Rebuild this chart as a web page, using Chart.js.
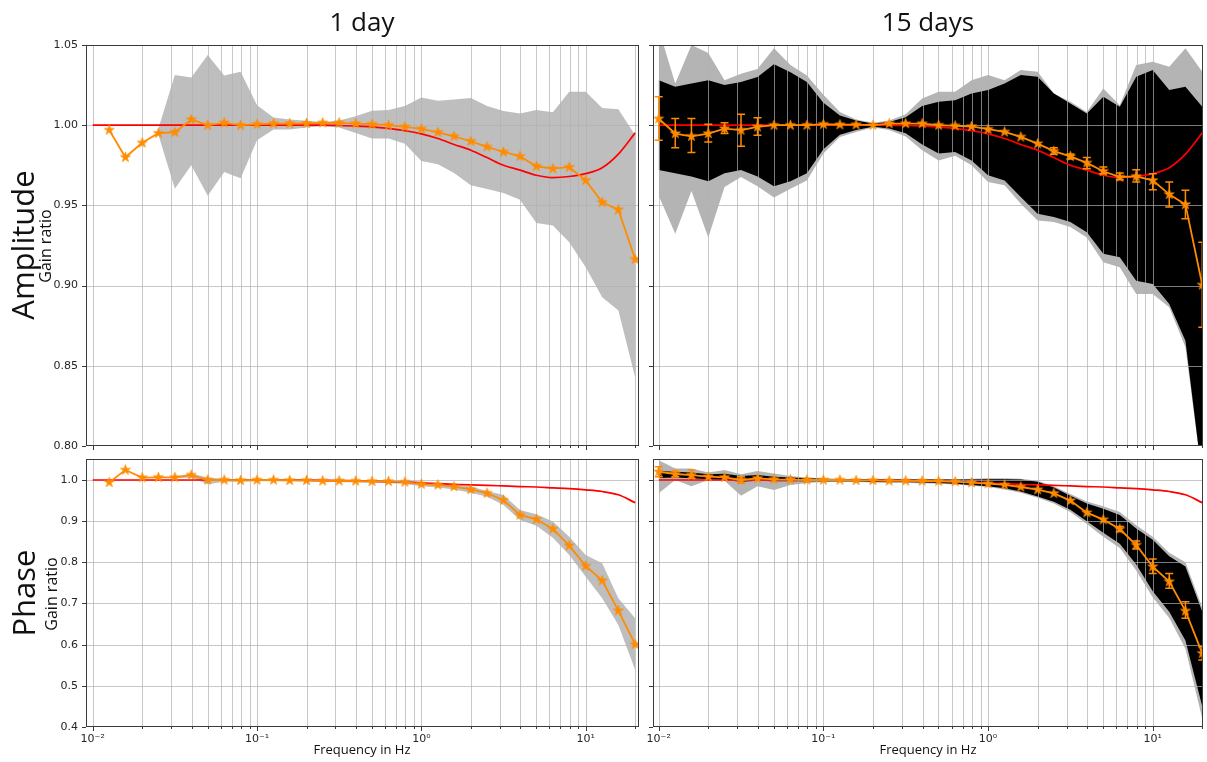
<!DOCTYPE html>
<html>
<head>
<meta charset="utf-8">
<script src="https://cdn.jsdelivr.net/npm/chart.js@4.4.0/dist/chart.umd.min.js"></script>
<style>
  body { margin: 0; background: #fff; width: 1207px; height: 762px; position: relative; overflow: hidden; font-family: 'Open Sans', sans-serif; }
  canvas { position: absolute; }
  .lbl { position: absolute; color: #111; white-space: nowrap; line-height: 1; }
  .ctr { transform: translate(-50%, -50%); }
  .rot { transform: translate(-50%, -50%) rotate(-90deg); }
</style>
</head>
<body>
<canvas id="ampDay" width="649" height="433" style="left:0;top:29px"></canvas>
<canvas id="ampFortnight" width="580" height="433" style="left:633px;top:29px"></canvas>
<canvas id="phaseDay" width="649" height="314" style="left:0;top:443px"></canvas>
<canvas id="phaseFortnight" width="580" height="314" style="left:633px;top:443px"></canvas>

<div class="lbl ctr" style="left:362px;top:21px;font-size:26px">1 day</div>
<div class="lbl ctr" style="left:928px;top:21px;font-size:26px">15 days</div>
<div class="lbl rot" style="left:22px;top:245px;font-size:31px">Amplitude</div>
<div class="lbl rot" style="left:45px;top:246px;font-size:16px">Gain ratio</div>
<div class="lbl rot" style="left:23px;top:593px;font-size:31px">Phase</div>
<div class="lbl rot" style="left:51px;top:594px;font-size:16px">Gain ratio</div>
<div class="lbl ctr" style="left:362px;top:749px;font-size:13px">Frequency in Hz</div>
<div class="lbl ctr" style="left:928px;top:749px;font-size:13px">Frequency in Hz</div>

<script>
// Frequencies (Hz), one every tenth of a decade
const freq = [0.01, 0.0126, 0.0158, 0.02, 0.0251, 0.0316, 0.0398, 0.0501, 0.0631, 0.0794,
  0.1, 0.126, 0.158, 0.2, 0.251, 0.316, 0.398, 0.501, 0.631, 0.794,
  1, 1.26, 1.58, 2, 2.51, 3.16, 3.98, 5.01, 6.31, 7.94,
  10, 12.6, 15.8, 20];

// Axis ticks
const xMajor = [0.01, 0.1, 1, 10];
const xMajorLabels = ['10\u207B\u00B2', '10\u207B\u00B9', '10\u2070', '10\u00B9'];
const ampTicks = [0.80, 0.85, 0.90, 0.95, 1.00, 1.05];
const ampTickLabels = ['0.80', '0.85', '0.90', '0.95', '1.00', '1.05'];
const phaseTicks = [0.4, 0.5, 0.6, 0.7, 0.8, 0.9, 1.0];
const phaseTickLabels = ['0.4', '0.5', '0.6', '0.7', '0.8', '0.9', '1.0'];

// Model (nominal) response
const modelAmp = [1, 1, 1, 1, 1, 1, 1, 1, 1, 1, 1, 1, 1, 1, 1, 0.9998, 0.9995, 0.999, 0.998, 0.9966,
  0.9946, 0.9917, 0.988, 0.9844, 0.9798, 0.975, 0.972, 0.9688, 0.9673, 0.968, 0.9698, 0.9735, 0.982, 0.9952];
const modelPhase = [1, 1, 1, 1, 1, 1, 1, 1, 1, 1, 1, 1, 1, 0.9995, 0.999, 0.9985, 0.998, 0.997, 0.996, 0.9945,
  0.993, 0.991, 0.9895, 0.988, 0.987, 0.9855, 0.984, 0.983, 0.981, 0.979, 0.976, 0.972, 0.964, 0.945];

// 1 day: amplitude gain ratio and spread
const ampDay = [null, 0.997, 0.980, 0.989, 0.995, 0.9956, 1.0035, 1.000, 1.0015, 1.000,
  1.0006, 1.001, 1.001, 1.0012, 1.0015, 1.0015, 1.001, 1.0006, 1.000, 0.999,
  0.9977, 0.9956, 0.9931, 0.990, 0.9865, 0.9833, 0.9806, 0.9744, 0.9729, 0.9738,
  0.9656, 0.9519, 0.9473, 0.9164];
const ampDayHigh = [null, null, null, null, 0.998, 1.0313, 1.0298, 1.0438, 1.031, 1.0333,
  1.0125, 1.0048, 1.0035, 1.0027, 1.002, 1.003, 1.0056, 1.009, 1.0094, 1.012,
  1.0173, 1.0152, 1.016, 1.0169, 1.0119, 1.0088, 1.0073, 1.0094, 1.008, 1.0208,
  1.0208, 1.0108, 1.010, 0.9938];
const ampDayLow = [null, null, null, null, 0.994, 0.9604, 0.975, 0.956, 0.9708, 0.967,
  0.9906, 0.9973, 0.9973, 0.9985, 0.9994, 0.9985, 0.9952, 0.9917, 0.9917, 0.9885,
  0.9777, 0.9756, 0.9702, 0.9625, 0.9602, 0.9577, 0.9535, 0.939, 0.9375, 0.927,
  0.9115, 0.8927, 0.8844, 0.8427];

// 15 days: amplitude gain ratio, error bars and envelopes
const ampFortnight = [1.004, 0.9948, 0.9931, 0.9948, 0.9979, 0.9969, 0.999, 1.0, 1.0, 1.0,
  1.0006, 1.0003, 1.0003, 1.0, 1.001, 1.001, 1.001, 1.0, 0.9996, 0.9992,
  0.9975, 0.9958, 0.9927, 0.9885, 0.9838, 0.9806, 0.9765, 0.9713, 0.9677, 0.9681,
  0.9656, 0.9569, 0.9506, 0.9004];
const ampFortnightErrLow = [0.9906, 0.986, 0.983, 0.9896, 0.9948, 0.9869, 0.9938, null, null, null,
  null, null, null, null, null, null, null, null, null, null,
  null, null, null, null, 0.9819, 0.979, 0.9729, 0.9698, 0.966, 0.9646,
  0.9598, 0.949, 0.9417, 0.874];
const ampFortnightErrHigh = [1.0177, 1.0042, 1.0042, 1.0006, 1.0015, 1.0069, 1.0046, null, null, null,
  null, null, null, null, null, null, null, null, null, null,
  null, null, null, null, 0.986, 0.982, 0.9798, 0.974, 0.9702, 0.9723,
  0.9698, 0.9646, 0.9594, 0.927];
const ampFortnightOuterHigh = [1.06, 1.026, 1.05, 1.045, 1.028, 1.032, 1.035, 1.048, 1.0375, 1.031,
  1.019, 1.0083, 1.0035, 1.0015, 1.003, 1.0069, 1.0167, 1.0208, 1.0208, 1.0281,
  1.0313, 1.0281, 1.0344, 1.0333, 1.0198, 1.0146, 1.0083, 1.0229, 1.0125, 1.0375,
  1.0396, 1.0365, 1.0479, 1.0333];
const ampFortnightOuterLow = [0.956, 0.9323, 0.959, 0.930, 0.9615, 0.9677, 0.962, 0.955, 0.9604, 0.9656,
  0.9823, 0.9927, 0.9958, 0.9985, 0.997, 0.993, 0.9844, 0.978, 0.981, 0.975,
  0.9646, 0.9625, 0.951, 0.9406, 0.9396, 0.9365, 0.930, 0.9146, 0.9115, 0.8948,
  0.8948, 0.8865, 0.8615, 0.78];
const ampFortnightCoreHigh = [1.028, 1.024, 1.026, 1.028, 1.025, 1.027, 1.03, 1.038, 1.033, 1.027,
  1.014, 1.006, 1.003, 1.001, 1.002, 1.005, 1.012, 1.0146, 1.0156, 1.0198,
  1.0219, 1.026, 1.0313, 1.0302, 1.0198, 1.0135, 1.0073, 1.0177, 1.0115, 1.0302,
  1.0344, 1.0219, 1.024, 1.0115];
const ampFortnightCoreLow = [0.972, 0.97, 0.968, 0.965, 0.97, 0.972, 0.968, 0.962, 0.965, 0.97,
  0.985, 0.994, 0.997, 0.999, 0.998, 0.995, 0.988, 0.9823, 0.9833, 0.978,
  0.9688, 0.9656, 0.9552, 0.9448, 0.9427, 0.9396, 0.9333, 0.9198, 0.9177, 0.9031,
  0.901, 0.8885, 0.8656, 0.78];

// 1 day: phase gain ratio and spread
const phaseDay = [null, 0.9943, 1.0243, 1.0057, 1.0065, 1.0065, 1.012, 1.0, 1.0, 0.999,
  1.0, 1.0, 0.999, 0.999, 0.998, 0.998, 0.9976, 0.9968, 0.9968, 0.995,
  0.990, 0.988, 0.984, 0.977, 0.968, 0.951, 0.915, 0.9045, 0.881, 0.8405,
  0.791, 0.7555, 0.6826, 0.6008];
const phaseDayHigh = [null, null, null, null, null, 1.008, 1.016, 1.006, 1.003, 1.002,
  1.002, 1.002, 1.001, 1.001, 1.001, 1.001, 1.0, 1.0, 1.0, 0.999,
  0.995, 0.993, 0.990, 0.984, 0.973, 0.9636, 0.927, 0.9166, 0.899, 0.862,
  0.818, 0.7976, 0.7126, 0.664];
const phaseDayLow = [null, null, null, null, null, 1.004, 1.006, 0.9895, 0.996, 0.996,
  0.997, 0.997, 0.997, 0.996, 0.995, 0.995, 0.994, 0.993, 0.993, 0.990,
  0.985, 0.982, 0.977, 0.969, 0.9595, 0.939, 0.903, 0.889, 0.860, 0.818,
  0.765, 0.7126, 0.648, 0.5385];

// 15 days: phase gain ratio, error bars and envelopes
const phaseFortnight = [1.020, 1.0146, 1.012, 1.008, 1.0065, 1.0, 1.004, 1.0016, 1.0008, 1.0,
  1.0, 1.0, 0.999, 0.999, 0.998, 0.998, 0.9976, 0.997, 0.996, 0.9935,
  0.991, 0.988, 0.983, 0.9765, 0.9676, 0.950, 0.9206, 0.9036, 0.881, 0.842,
  0.7895, 0.753, 0.682, 0.579];
const phaseFortnightErrLow = [1.008, 1.0081, 1.004, null, null, 0.9919, null, null, null, null,
  null, null, null, null, null, null, null, null, null, null,
  null, null, null, null, null, null, null, null, 0.875, 0.8324,
  0.773, 0.7368, 0.664, 0.563];
const phaseFortnightErrHigh = [1.032, 1.0219, 1.0243, null, null, 1.0081, null, null, null, null,
  null, null, null, null, null, null, null, null, null, null,
  null, null, null, null, null, null, null, null, 0.887, 0.8518,
  0.808, 0.773, 0.7045, 0.595];
const phaseFortnightOuterHigh = [1.048, 1.028, 1.028, 1.018, 1.024, 1.014, 1.022, 1.016, 1.01, 1.006,
  1.004, 1.003, 1.002, 1.002, 1.002, 1.002, 1.002, 1.002, 1.002, 1.003,
  1.004, 1.004, 1.003, 0.998, 0.985, 0.966, 0.948, 0.936, 0.922, 0.89,
  0.862, 0.823, 0.80, 0.69];
const phaseFortnightOuterLow = [0.968, 1.0, 0.985, 1.0, 0.998, 0.962, 0.985, 0.976, 0.988, 0.993,
  0.995, 0.995, 0.995, 0.994, 0.993, 0.993, 0.992, 0.991, 0.989, 0.986,
  0.983, 0.977, 0.969, 0.957, 0.943, 0.922, 0.893, 0.862, 0.835, 0.78,
  0.715, 0.665, 0.59, 0.42];
const phaseFortnightCoreHigh = [1.022, 1.02, 1.018, 1.014, 1.015, 1.01, 1.012, 1.008, 1.006, 1.004,
  1.003, 1.002, 1.001, 1.001, 1.001, 1.001, 1.001, 1.001, 1.001, 1.001,
  1.002, 1.002, 1.001, 0.996, 0.982, 0.962, 0.943, 0.93, 0.915, 0.882,
  0.855, 0.815, 0.79, 0.68];
const phaseFortnightCoreLow = [1.005, 1.006, 1.004, 1.002, 1.0, 0.996, 0.998, 0.997, 0.997, 0.997,
  0.997, 0.997, 0.997, 0.996, 0.995, 0.995, 0.994, 0.993, 0.991, 0.988,
  0.985, 0.98, 0.972, 0.96, 0.947, 0.928, 0.9, 0.872, 0.845, 0.795,
  0.73, 0.68, 0.61, 0.45];

// ---- drawing helpers ----
const ORANGE = '#ff8c00';
const RED = '#ff0000';
const GRID = 'rgba(176,176,176,0.7)';
const AXIS = '#3a3a3a';
const TICK_FONT = { family: 'DejaVu Sans', size: 11 };

// gridline positions: every 1..9 x 10^k
const xGrid = [];
for (let e = -3; e <= 1; e++) for (let m = 1; m <= 9; m++) xGrid.push(+(m * Math.pow(10, e)).toPrecision(3));

// filled five-point star marker
function starMarker(r) {
  const c = document.createElement('canvas');
  const s = Math.ceil(r * 2 + 2);
  c.width = s; c.height = s;
  const g = c.getContext('2d');
  g.translate(s / 2, s / 2);
  g.beginPath();
  for (let i = 0; i < 10; i++) {
    const rad = i % 2 === 0 ? r : r * 0.382;
    const a = -Math.PI / 2 + i * Math.PI / 5;
    g.lineTo(rad * Math.cos(a), rad * Math.sin(a));
  }
  g.closePath();
  g.fillStyle = ORANGE; g.fill();
  g.strokeStyle = ORANGE; g.lineWidth = 0.8; g.stroke();
  return c;
}
const STAR = starMarker(5.2);

const pts = ys => freq.map((f, i) => ({ x: f, y: ys[i] })).filter(p => p.y !== null);

function band(high, low, color, order) {
  return [
    { data: pts(high), fill: '+1', backgroundColor: color, borderWidth: 0, pointRadius: 0, order },
    { data: pts(low), fill: false, borderWidth: 0, pointRadius: 0, order }
  ];
}
function measured(values, errLow, errHigh) {
  return { data: pts(values), borderColor: ORANGE, borderWidth: 1.8, pointStyle: STAR, pointRadius: 5,
    fill: false, order: 0, errLow, errHigh };
}
function model(values) {
  return { data: pts(values), borderColor: RED, borderWidth: 1.7, pointRadius: 0, fill: false,
    cubicInterpolationMode: 'monotone', order: 1, gridBefore: true };
}

function clipArea(ctx, a) {
  ctx.beginPath(); ctx.rect(a.left, a.top, a.right - a.left, a.bottom - a.top); ctx.clip();
}
function drawGrid(chart) {
  const { ctx, chartArea: a, scales: { x, y } } = chart;
  ctx.save();
  clipArea(ctx, a);
  ctx.strokeStyle = GRID; ctx.lineWidth = 1;
  ctx.beginPath();
  x.ticks.forEach(t => { const px = Math.round(x.getPixelForValue(t.value)) + 0.5; ctx.moveTo(px, a.top); ctx.lineTo(px, a.bottom); });
  y.ticks.forEach(t => { const py = Math.round(y.getPixelForValue(t.value)) + 0.5; ctx.moveTo(a.left, py); ctx.lineTo(a.right, py); });
  ctx.stroke();
  ctx.restore();
}
function drawErrorBars(chart, ds) {
  const { ctx, chartArea: a, scales: { x, y } } = chart;
  ctx.save();
  clipArea(ctx, a);
  ctx.strokeStyle = ORANGE; ctx.lineWidth = 1.5;
  ctx.beginPath();
  freq.forEach((f, i) => {
    if (ds.errLow[i] === null) return;
    const px = x.getPixelForValue(f), p1 = y.getPixelForValue(ds.errLow[i]), p2 = y.getPixelForValue(ds.errHigh[i]);
    ctx.moveTo(px, p1); ctx.lineTo(px, p2);
    ctx.moveTo(px - 4, p1); ctx.lineTo(px + 4, p1);
    ctx.moveTo(px - 4, p2); ctx.lineTo(px + 4, p2);
  });
  ctx.stroke();
  ctx.restore();
}
function drawFrame(chart) {
  const { ctx, chartArea: a, scales: { x, y } } = chart;
  ctx.save();
  ctx.strokeStyle = AXIS; ctx.lineWidth = 1;
  ctx.strokeRect(Math.round(a.left) + 0.5, Math.round(a.top) + 0.5, Math.round(a.right - a.left) - 1, Math.round(a.bottom - a.top) - 1);
  ctx.beginPath();
  x.ticks.forEach(t => {
    const px = Math.round(x.getPixelForValue(t.value)) + 0.5;
    const len = xMajor.includes(t.value) ? 4 : 2;
    ctx.moveTo(px, Math.round(a.bottom)); ctx.lineTo(px, Math.round(a.bottom) + len);
  });
  y.ticks.forEach(t => {
    const py = Math.round(y.getPixelForValue(t.value)) + 0.5;
    ctx.moveTo(Math.round(a.left), py); ctx.lineTo(Math.round(a.left) - 4, py);
  });
  ctx.stroke();
  ctx.restore();
}
const panelPlugin = {
  id: 'panel',
  beforeDatasetDraw(chart, args) { if (chart.data.datasets[args.index].gridBefore) drawGrid(chart); },
  afterDatasetDraw(chart, args) { const ds = chart.data.datasets[args.index]; if (ds.errLow) drawErrorBars(chart, ds); },
  afterDraw(chart) { drawFrame(chart); }
};

function panel(id, o) {
  return new Chart(document.getElementById(id), {
    type: 'line',
    data: { datasets: o.datasets },
    options: {
      responsive: false, animation: false, events: [],
      layout: { padding: { top: 16, right: 10, left: 0, bottom: o.padB } },
      plugins: { legend: { display: false }, tooltip: { enabled: false } },
      scales: {
        x: {
          type: 'logarithmic', min: o.xmin, max: o.xmax,
          afterBuildTicks: s => { s.ticks = xGrid.filter(v => v >= o.xmin && v <= o.xmax).map(v => ({ value: v })); },
          afterFit: s => { s.height = o.xh; },
          grid: { display: false, drawTicks: false }, border: { display: false },
          ticks: { display: o.xLabels, autoSkip: false, maxRotation: 0, minRotation: 0, padding: 6,
            font: TICK_FONT, color: '#262626',
            callback: v => { const k = xMajor.indexOf(v); return k >= 0 ? xMajorLabels[k] : ''; } }
        },
        y: {
          type: 'linear', min: o.ymin, max: o.ymax,
          afterBuildTicks: s => { s.ticks = o.yTicks.map(v => ({ value: v })); },
          afterFit: s => { s.width = o.yw; },
          grid: { display: false, drawTicks: false }, border: { display: false },
          ticks: { display: o.yLabels, padding: 8, font: TICK_FONT, color: '#262626',
            callback: (v, i) => o.yTickLabels[i] }
        }
      }
    },
    plugins: [panelPlugin]
  });
}

const LEFT_X = { xmin: 0.0091, xmax: 21.1, yw: 86, yLabels: true };
const RIGHT_X = { xmin: 0.00923, xmax: 20.2, yw: 20, yLabels: false };
const AMP_Y = { ymin: 0.80, ymax: 1.05, yTicks: ampTicks, yTickLabels: ampTickLabels, xh: 6, xLabels: false, padB: 10 };
const PHASE_Y = { ymin: 0.40, ymax: 1.051, yTicks: phaseTicks, yTickLabels: phaseTickLabels, xh: 30, xLabels: true, padB: 0 };

panel('ampDay', Object.assign({}, LEFT_X, AMP_Y, {
  datasets: [measured(ampDay, null, null), model(modelAmp), ...band(ampDayHigh, ampDayLow, '#bebebe', 5)]
}));
panel('ampFortnight', Object.assign({}, RIGHT_X, AMP_Y, {
  datasets: [measured(ampFortnight, ampFortnightErrLow, ampFortnightErrHigh), model(modelAmp),
    ...band(ampFortnightCoreHigh, ampFortnightCoreLow, '#000000', 5),
    ...band(ampFortnightOuterHigh, ampFortnightOuterLow, '#b4b4b4', 6)]
}));
panel('phaseDay', Object.assign({}, LEFT_X, PHASE_Y, {
  datasets: [measured(phaseDay, null, null), model(modelPhase), ...band(phaseDayHigh, phaseDayLow, '#bebebe', 5)]
}));
panel('phaseFortnight', Object.assign({}, RIGHT_X, PHASE_Y, {
  datasets: [measured(phaseFortnight, phaseFortnightErrLow, phaseFortnightErrHigh), model(modelPhase),
    ...band(phaseFortnightCoreHigh, phaseFortnightCoreLow, '#000000', 5),
    ...band(phaseFortnightOuterHigh, phaseFortnightOuterLow, '#b4b4b4', 6)]
}));
</script>
</body>
</html>
